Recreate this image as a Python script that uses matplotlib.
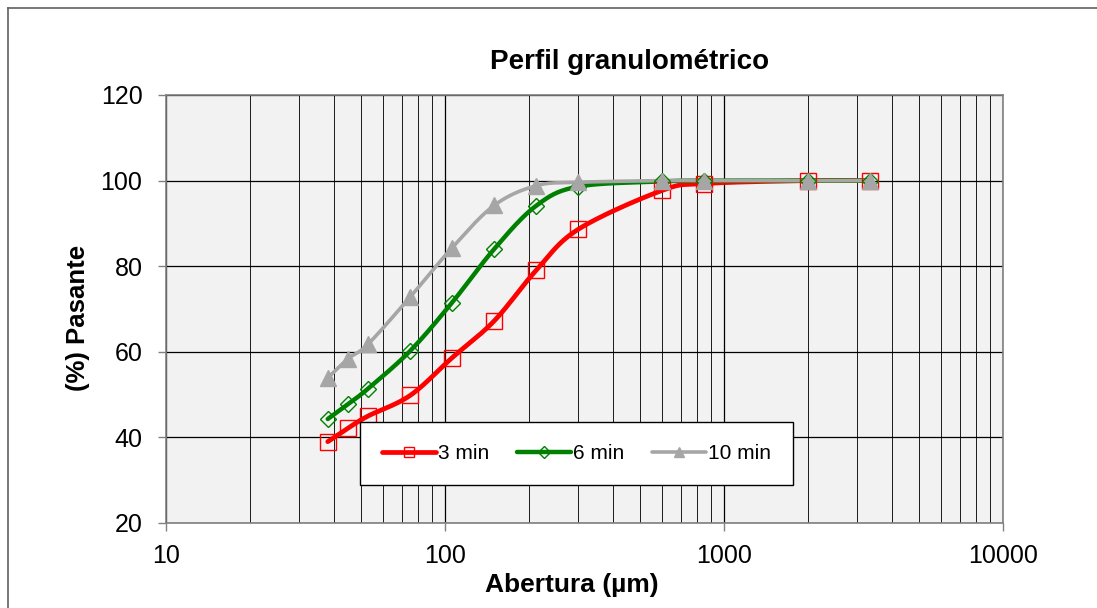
import numpy as np
import matplotlib
matplotlib.use("Agg")
from matplotlib import pyplot as plt
from matplotlib.ticker import FixedLocator, FuncFormatter, NullFormatter
from matplotlib.lines import Line2D

plt.rcParams['font.family'] = ['Liberation Sans', 'DejaVu Sans']

# sieve openings (um)
abertura = [38, 45, 53, 75, 106, 150, 212, 300, 600, 850, 2000, 3350]
pasa_3 = [39.0, 42.2, 45.0, 49.8, 58.6, 67.2, 79.0, 88.6, 97.7, 99.3, 100, 100]
pasa_6 = [44.3, 47.8, 51.4, 60.2, 71.5, 84.0, 94.1, 98.6, 99.8, 100, 100, 100]
pasa_10 = [53.9, 58.4, 61.8, 72.8, 84.3, 94.2, 98.8, 99.6, 100, 100, 100, 100]
series = ['3 min', '6 min', '10 min']


def smooth(xs, ys, n=30):
    # excel-like bezier smoothing done in (log x, y) space
    u = np.log10(np.asarray(xs, float))
    v = np.asarray(ys, float)
    P = np.column_stack([u, v])
    out = []
    for i in range(len(P) - 1):
        p0 = P[max(i - 1, 0)]
        p1 = P[i]
        p2 = P[i + 1]
        p3 = P[min(i + 2, len(P) - 1)]
        c1 = p1 + (p2 - p0) / 6.0
        c2 = p2 - (p3 - p1) / 6.0
        t = np.linspace(0, 1, n)[:, None]
        seg = ((1 - t) ** 3) * p1 + 3 * ((1 - t) ** 2) * t * c1 + 3 * (1 - t) * t ** 2 * c2 + t ** 3 * p2
        out.append(seg if i == 0 else seg[1:])
    out = np.vstack(out)
    return 10 ** out[:, 0], out[:, 1]


fig = plt.figure(figsize=(10.97, 6.08), dpi=100)
ax = fig.add_axes([166 / 1097, 1 - 523 / 608, 837 / 1097, 428 / 608])
ax.set_facecolor('#f2f2f2')

ax.set_xscale('log')
ax.set_xlim(10, 10000)
ax.set_ylim(20, 120)

# grid
ax.xaxis.set_major_locator(FixedLocator([10, 100, 1000, 10000]))
minors = [m * 10 ** e for e in range(1, 4) for m in range(2, 10)]
ax.xaxis.set_minor_locator(FixedLocator(minors))
ax.xaxis.set_minor_formatter(NullFormatter())
ax.xaxis.set_major_formatter(FuncFormatter(lambda v, p: '%d' % v))
ax.set_yticks([20, 40, 60, 80, 100, 120])
ax.grid(True, which='major', color='#000000', lw=0.9)
ax.grid(True, which='minor', axis='x', color='#1a1a1a', lw=0.7)
ax.set_axisbelow(True)

ax.tick_params(axis='both', which='major', labelsize=18, length=6, width=1, color='#808080', direction='out')
ax.tick_params(axis='x', which='minor', length=0)
ax.tick_params(axis='y', pad=11)
ax.tick_params(axis='x', pad=9)
for s in ax.spines.values():
    s.set_color('#808080')
    s.set_linewidth(1.2)

styles = [
    dict(color='#ff0000', lw=3.4, marker='s', ms=11, mfc='none', mec='#ff0000', mew=1.0),
    dict(color='#008000', lw=3.2, marker='D', ms=8.5, mfc='none', mec='#008000', mew=1.0),
    dict(color='#a6a6a6', lw=2.6, marker='^', ms=11, mfc='#a6a6a6', mec='#a6a6a6', mew=1.0),
]
handles = []
for ys, name, st in zip([pasa_3, pasa_6, pasa_10], series, styles):
    sx, sy = smooth(abertura, ys)
    ax.plot(sx, sy, color=st['color'], lw=st['lw'], solid_capstyle='round', zorder=3)
    ax.plot(abertura, ys, ls='none', marker=st['marker'], ms=st['ms'], mfc=st['mfc'],
            mec=st['mec'], mew=st['mew'], zorder=4)
    handles.append(Line2D([], [], color=st['color'], lw=st['lw'], marker=st['marker'],
                          ms=st['ms'] * 0.7, mfc=st['mfc'], mec=st['mec'], mew=st['mew'],
                          solid_capstyle='round'))

x0 = (360 - 166) / 837
x1 = (793 - 166) / 837
y0 = (523 - 483) / 428
y1 = (523 - 424) / 428
leg = ax.legend(handles, series, ncol=3, loc='center', bbox_to_anchor=(x0, y0, x1 - x0, y1 - y0),
                mode='expand', fontsize=15, frameon=True, fancybox=False, framealpha=1,
                edgecolor='#000000', handlelength=2.6, handletextpad=0.1, columnspacing=1.2,
                borderpad=1.05, borderaxespad=0)
leg.get_frame().set_linewidth(1.0)
leg.set_zorder(5)

fig.text(630 / 1097, 1 - 62 / 608, 'Perfil granulométrico', ha='center', va='center',
         fontsize=20, fontweight='bold')
fig.text(572 / 1097, 1 - 585 / 608, 'Abertura (µm)', ha='center', va='center',
         fontsize=19, fontweight='bold')
fig.text(78 / 1097, 1 - 318 / 608, '(%) Pasante', ha='center', va='center', rotation=90,
         fontsize=18.5, fontweight='bold')

# outer chart border (top and left visible)
fig.add_artist(Line2D([8 / 1097, 8 / 1097], [0, 1 - 8 / 608], transform=fig.transFigure,
                      color='#606060', lw=1.2))
fig.add_artist(Line2D([8 / 1097, 1], [1 - 8 / 608, 1 - 8 / 608], transform=fig.transFigure,
                      color='#606060', lw=1.2))

fig.savefig('out.png', dpi=100)
